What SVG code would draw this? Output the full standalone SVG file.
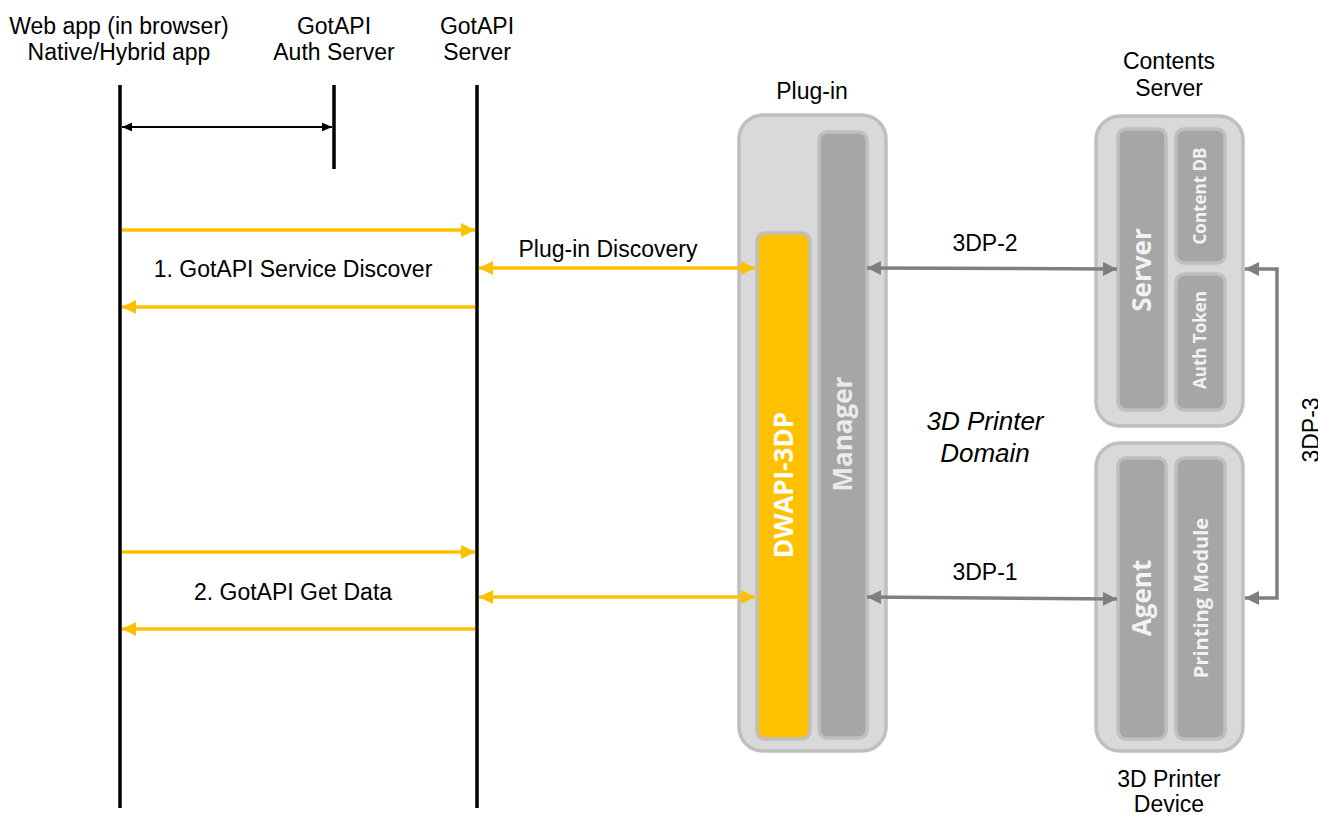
<svg xmlns="http://www.w3.org/2000/svg" width="1318" height="815" viewBox="0 0 1318 815">
  <style>
    .lbl { font-family: "Liberation Sans", Arial, sans-serif; font-size: 23px; fill: #000; text-anchor: middle; }
    .dom { font-family: "Liberation Sans", Arial, sans-serif; font-size: 26px; font-style: italic; fill: #000; text-anchor: middle; }
    .life { stroke: #000; stroke-width: 3.5; fill: none; }
    .outer { fill: #d9d9d9; stroke: #bfbfbf; stroke-width: 3.5; }
    .bar { fill: #a6a6a6; stroke: #bfbfbf; stroke-width: 3.5; }
    .ybar { fill: #ffc000; stroke: #bfbfbf; stroke-width: 3.5; }
    .big { font-family: "Open Sans", "Noto Sans", sans-serif; font-weight: 700; font-size: 26px; text-anchor: middle; }
    .small { font-family: "Open Sans", "Noto Sans", sans-serif; font-weight: 700; font-size: 17px; text-anchor: middle; fill: #f2f2f2; }
    .mid { font-family: "Open Sans", "Noto Sans", sans-serif; font-weight: 700; font-size: 20px; text-anchor: middle; fill: #f2f2f2; }
    .ya { stroke: #ffc000; stroke-width: 3.5; fill: none; }
    .ga { stroke: #7f7f7f; stroke-width: 3.5; fill: none; }
    .ka { stroke: #000; stroke-width: 2; fill: none; }
  </style>
  <defs>
    <marker id="yEnd" markerWidth="4" markerHeight="4" refX="4" refY="2" orient="auto" markerUnits="strokeWidth">
      <path d="M0,0 L4,2 L0,4 z" fill="#ffc000"/>
    </marker>
    <marker id="yStart" markerWidth="4" markerHeight="4" refX="0" refY="2" orient="auto" markerUnits="strokeWidth">
      <path d="M4,0 L0,2 L4,4 z" fill="#ffc000"/>
    </marker>
    <marker id="gEnd" markerWidth="4" markerHeight="4" refX="4" refY="2" orient="auto" markerUnits="strokeWidth">
      <path d="M0,0 L4,2 L0,4 z" fill="#7f7f7f"/>
    </marker>
    <marker id="gStart" markerWidth="4" markerHeight="4" refX="0" refY="2" orient="auto" markerUnits="strokeWidth">
      <path d="M4,0 L0,2 L4,4 z" fill="#7f7f7f"/>
    </marker>
    <marker id="kEnd" markerWidth="5" markerHeight="4.4" refX="5" refY="2.2" orient="auto" markerUnits="strokeWidth">
      <path d="M0,0 L5,2.2 L0,4.4 z" fill="#000"/>
    </marker>
    <marker id="kStart" markerWidth="5" markerHeight="4.4" refX="0" refY="2.2" orient="auto" markerUnits="strokeWidth">
      <path d="M5,0 L0,2.2 L5,4.4 z" fill="#000"/>
    </marker>
  </defs>

  <!-- lifeline headers -->
  <g id="webapp">
    <text class="lbl" x="119" y="34">Web app (in browser)</text>
    <text class="lbl" x="119" y="60">Native/Hybrid app</text>
    <line class="life" x1="120" y1="85" x2="120" y2="808"/>
  </g>
  <g id="authserver">
    <text class="lbl" x="334" y="34">GotAPI</text>
    <text class="lbl" x="334" y="60">Auth Server</text>
    <line class="life" x1="334" y1="85" x2="334" y2="169"/>
  </g>
  <g id="gotapiserver">
    <text class="lbl" x="477" y="34">GotAPI</text>
    <text class="lbl" x="477" y="60">Server</text>
    <line class="life" x1="477" y1="85" x2="477" y2="808"/>
  </g>

  <!-- plug-in -->
  <g id="plugin">
    <text class="lbl" x="812" y="99">Plug-in</text>
    <rect class="outer" x="739" y="115" width="147" height="636" rx="24"/>
    <rect class="bar" x="819" y="132" width="48" height="606" rx="8"/>
    <rect class="ybar" x="757" y="233" width="53" height="506" rx="8"/>
    <text class="big" fill="#ffffff" font-size="27" transform="translate(793,485) rotate(-90)">DWAPI-3DP</text>
    <text class="big" fill="#ebebeb" transform="translate(852,434) rotate(-90)">Manager</text>
  </g>

  <!-- contents server -->
  <g id="contentsserver">
    <text class="lbl" x="1169" y="69">Contents</text>
    <text class="lbl" x="1169" y="96">Server</text>
    <rect class="outer" x="1096" y="116" width="147" height="310" rx="24"/>
    <rect class="bar" x="1118" y="129" width="48" height="281" rx="8"/>
    <rect class="bar" x="1176" y="129" width="49" height="134" rx="8"/>
    <rect class="bar" x="1176" y="274" width="49" height="136" rx="8"/>
    <text class="big" fill="#f2f2f2" transform="translate(1151,270) rotate(-90)">Server</text>
    <text class="small" transform="translate(1206,196) rotate(-90)">Content DB</text>
    <text class="small" transform="translate(1206,340) rotate(-90)">Auth Token</text>
  </g>

  <!-- 3D printer device -->
  <g id="printerdevice">
    <rect class="outer" x="1096" y="443" width="147" height="308" rx="24"/>
    <rect class="bar" x="1118" y="458" width="48" height="281" rx="8"/>
    <rect class="bar" x="1176" y="458" width="49" height="281" rx="8"/>
    <text class="big" fill="#f2f2f2" transform="translate(1151,598) rotate(-90)">Agent</text>
    <text class="mid" transform="translate(1208,598) rotate(-90)">Printing Module</text>
    <text class="lbl" x="1169" y="787">3D Printer</text>
    <text class="lbl" x="1169" y="812">Device</text>
  </g>

  <g id="domain">
    <text class="dom" x="985" y="430">3D Printer</text>
    <text class="dom" x="985" y="462">Domain</text>
  </g>

  <!-- connectors -->
  <g id="connectors">
    <line class="ka" x1="122" y1="127" x2="332" y2="127" marker-start="url(#kStart)" marker-end="url(#kEnd)"/>

    <line class="ya" x1="122" y1="230" x2="475" y2="230" marker-end="url(#yEnd)"/>
    <line class="ya" x1="475" y1="307" x2="122" y2="307" marker-end="url(#yEnd)"/>
    <line class="ya" x1="479" y1="268" x2="755" y2="268" marker-start="url(#yStart)" marker-end="url(#yEnd)"/>
    <text class="lbl" x="293" y="277">1. GotAPI Service Discover</text>
    <text class="lbl" x="608" y="257">Plug-in Discovery</text>

    <line class="ya" x1="122" y1="552" x2="475" y2="552" marker-end="url(#yEnd)"/>
    <line class="ya" x1="475" y1="629" x2="122" y2="629" marker-end="url(#yEnd)"/>
    <line class="ya" x1="479" y1="597" x2="755" y2="597" marker-start="url(#yStart)" marker-end="url(#yEnd)"/>
    <text class="lbl" x="293" y="600">2. GotAPI Get Data</text>

    <line class="ga" x1="867" y1="268" x2="1117" y2="269" marker-start="url(#gStart)" marker-end="url(#gEnd)"/>
    <text class="lbl" x="985" y="251">3DP-2</text>
    <line class="ga" x1="867" y1="597" x2="1117" y2="599" marker-start="url(#gStart)" marker-end="url(#gEnd)"/>
    <text class="lbl" x="985" y="580">3DP-1</text>

    <polyline class="ga" points="1245,269 1277,269 1277,598 1245,598" marker-start="url(#gStart)" marker-end="url(#gEnd)"/>
    <text class="lbl" transform="translate(1319,430) rotate(-90)">3DP-3</text>
  </g>
</svg>
